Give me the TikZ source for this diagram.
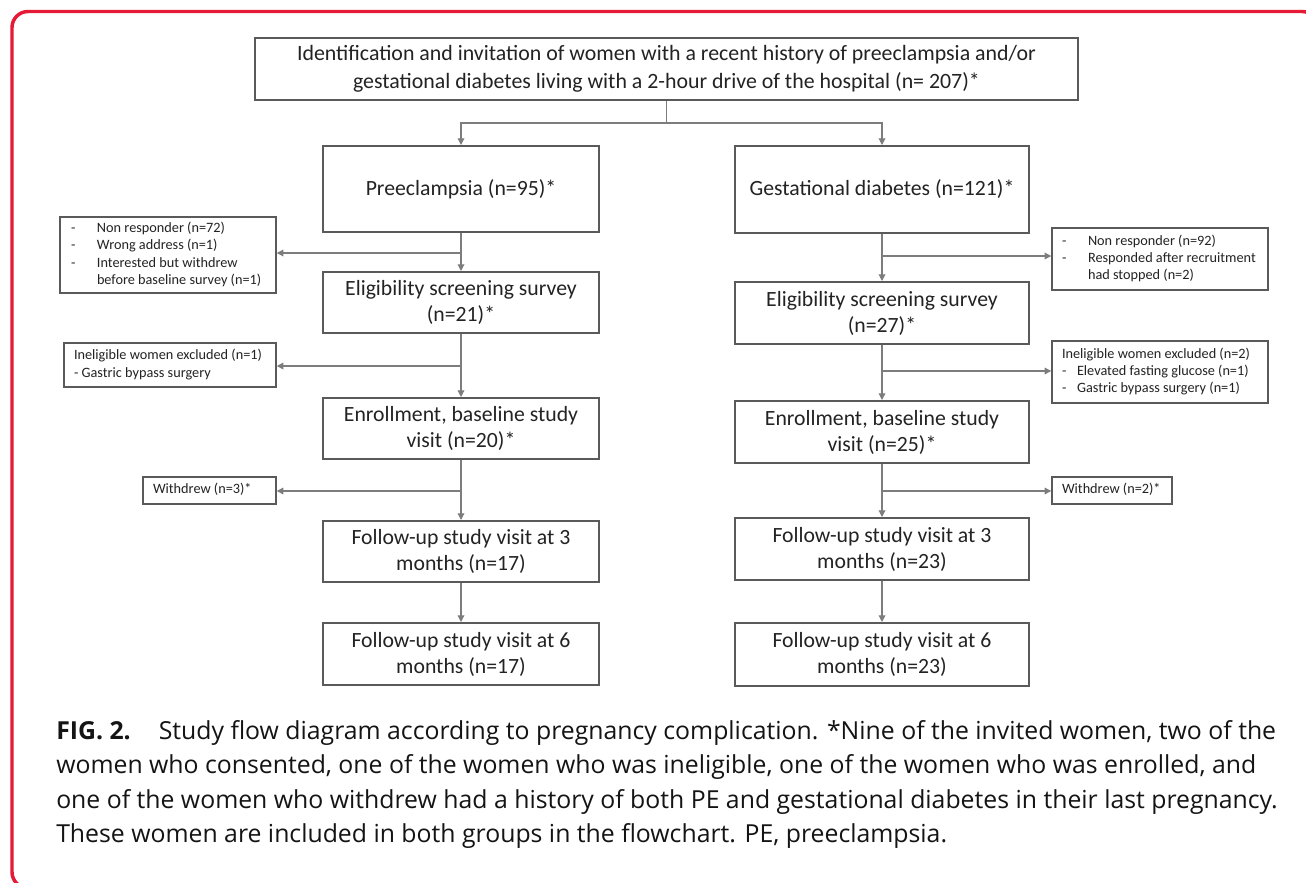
\documentclass[tikz,border=0pt]{standalone}
\usepackage{fontspec}
\setmainfont{Carlito}
\newfontfamily\capfont{Open Sans}
\usetikzlibrary{arrows.meta}
\definecolor{framered}{RGB}{228,26,55}
\definecolor{boxgray}{RGB}{90,90,90}
\definecolor{linegray}{RGB}{125,125,125}
\definecolor{txt}{RGB}{35,35,35}
\definecolor{captxt}{RGB}{20,20,20}
\newcommand{\sidelines}[2]{\makebox[#1][l]{\begin{tabular}{@{}l@{}}#2\end{tabular}}}
\newcommand{\dsh}[1]{\makebox[#1][l]{-}}
\begin{document}
\begin{tikzpicture}[x=0.75pt,y=-0.75pt,
  mainbox/.style={draw=boxgray, line width=1.5pt, text=txt, font=\fontsize{16.3pt}{19.5pt}\selectfont, align=center, inner sep=2pt},
  leftcol/.style={mainbox, minimum width=207pt},
  rightcol/.style={mainbox, minimum width=220.5pt},
  sidebox/.style={draw=boxgray, line width=1.1pt, text=txt, font=\fontsize{10.7pt}{12.9pt}\selectfont, inner ysep=1pt},
  conn/.style={draw=linegray, line width=0.9pt},
  arr/.style={conn, -{Triangle[length=5pt,width=5pt]}},
  capline/.style={anchor=base west, inner sep=0pt, text=captxt, font=\capfont\fontsize{18.6pt}{22pt}\selectfont}
]
\useasboundingbox (0,0) rectangle (1306,882);
\fill[white] (0,0) rectangle (1306,882);
\begin{scope}
\clip (0,0) rectangle (1306,882);
\draw[framered, line width=2.6pt, rounded corners=12pt] (12,11.5) rectangle (1318,888);
\end{scope}

% top box
\node[mainbox, minimum width=617.25pt, minimum height=46.5pt, font=\fontsize{16.4pt}{21pt}\selectfont] (top) at (666.5,69)
  {Identification and invitation of women with a recent history of preeclampsia and/or\\gestational diabetes living with a 2-hour drive of the hospital (n= 207)*};

% left column
\node[leftcol, minimum height=64.5pt] (pe) at (461,189) {Preeclampsia (n=95)*};
\node[leftcol, minimum height=45.75pt] (elL) at (461,302.5) {Eligibility screening survey\\(n=21)*};
\node[leftcol, minimum height=45.75pt] (enL) at (461,428.5) {Enrollment, baseline study\\visit (n=20)*};
\node[leftcol, minimum height=45.75pt] (fu3L) at (461,551.5) {Follow-up study visit at 3\\months (n=17)};
\node[leftcol, minimum height=46.5pt] (fu6L) at (461,654) {Follow-up study visit at 6\\months (n=17)};

% right column
\node[rightcol, minimum height=65.25pt] (gd) at (882,189.5) {Gestational diabetes (n=121)*};
\node[rightcol, minimum height=46.5pt] (elR) at (882,313) {Eligibility screening survey\\(n=27)*};
\node[rightcol, minimum height=46.5pt] (enR) at (882,432) {Enrollment, baseline study\\visit (n=25)*};
\node[rightcol, minimum height=46.5pt] (fu3R) at (882,549) {Follow-up study visit at 3\\months (n=23)};
\node[rightcol, minimum height=47.25pt] (fu6R) at (882,654.5) {Follow-up study visit at 6\\months (n=23)};

% side boxes left
\node[sidebox, inner xsep=8.25pt, minimum height=57pt] (nrL) at (168,255)
  {\sidelines{145.5pt}{\dsh{19.5pt}Non responder (n=72)\\ \dsh{19.5pt}Wrong address (n=1)\\ \dsh{19.5pt}Interested but withdrew\\ \hspace*{19.5pt}before baseline survey (n=1)}};
\node[sidebox, inner xsep=7.5pt, minimum height=33pt] (inL) at (170,365)
  {\sidelines{144pt}{Ineligible women excluded (n=1)\\ - Gastric bypass surgery}};
\node[sidebox, inner xsep=7.5pt, minimum height=20.25pt] (wdL) at (209.5,490.5)
  {\sidelines{84.75pt}{Withdrew (n=3)*}};

% side boxes right
\node[sidebox, inner xsep=7.5pt, minimum height=46.5pt] (nrR) at (1160,259)
  {\sidelines{147pt}{\dsh{19.5pt}Non responder (n=92)\\ \dsh{19.5pt}Responded after recruitment\\ \hspace*{19.5pt}had stopped (n=2)}};
\node[sidebox, inner xsep=7.5pt, minimum height=46.5pt] (inR) at (1160,372)
  {\sidelines{147pt}{Ineligible women excluded (n=2)\\ \dsh{11.25pt}Elevated fasting glucose (n=1)\\ \dsh{11.25pt}Gastric bypass surgery (n=1)}};
\node[sidebox, inner xsep=7.5pt, minimum height=20.25pt] (wdR) at (1112,490.5)
  {\sidelines{75pt}{Withdrew (n=2)*}};

% split
\coordinate (split) at (666.5,123);
\draw[conn] (top.south) -- (split);
\draw[arr] (split) -| (pe.north);
\draw[arr] (split) -| (gd.north);

% left flow
\draw[arr] (pe.south) -- (elL.north);
\draw[arr] (elL.south) -- (enL.north);
\draw[arr] (enL.south) -- (fu3L.north);
\draw[arr] (fu3L.south) -- (fu6L.north);
\coordinate (bL1) at (461,253);
\coordinate (bL2) at (461,366);
\coordinate (bL3) at (461,491);
\draw[arr] (bL1) -- (bL1 -| nrL.east);
\draw[arr] (bL2) -- (bL2 -| inL.east);
\draw[arr] (bL3) -- (bL3 -| wdL.east);

% right flow
\draw[arr] (gd.south) -- (elR.north);
\draw[arr] (elR.south) -- (enR.north);
\draw[arr] (enR.south) -- (fu3R.north);
\draw[arr] (fu3R.south) -- (fu6R.north);
\coordinate (bR1) at (882,256);
\coordinate (bR2) at (882,371);
\coordinate (bR3) at (882,491);
\draw[arr] (bR1) -- (bR1 -| nrR.west);
\draw[arr] (bR2) -- (bR2 -| inR.west);
\draw[arr] (bR3) -- (bR3 -| wdR.west);

% caption
\node[capline] (cap1) at (56,739) {\textbf{FIG. 2.}\hspace{21pt}Study flow diagram according to pregnancy complication. *Nine of the invited women, two of the};
\node[capline] (cap2) at (56,773.5) {women who consented, one of the women who was ineligible, one of the women who was enrolled, and};
\node[capline] (cap3) at (56,808) {one of the women who withdrew had a history of both PE and gestational diabetes in their last pregnancy.};
\node[capline] (cap4) at (56,842.5) {These women are included in both groups in the flowchart. PE, preeclampsia.};
\end{tikzpicture}
\end{document}
